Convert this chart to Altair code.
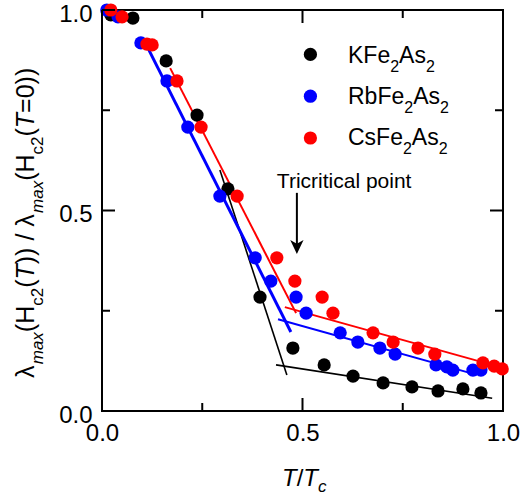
import altair as alt
import pandas as pd

# ---------------- data ----------------
compounds = ["KFe2As2", "RbFe2As2", "CsFe2As2"]
colors = ["#000000", "#0000ff", "#ff0000"]
legend_parts = [["K", "Fe", "As"], ["Rb", "Fe", "As"], ["Cs", "Fe", "As"]]

k_x = [0.022, 0.077, 0.160, 0.237, 0.314, 0.394, 0.476, 0.554, 0.626, 0.701, 0.773, 0.838, 0.900, 0.945]
k_y = [0.988, 0.980, 0.873, 0.738, 0.554, 0.284, 0.157, 0.115, 0.087, 0.070, 0.060, 0.050, 0.055, 0.045]
rb_x = [0.012, 0.040, 0.097, 0.162, 0.214, 0.294, 0.382, 0.421, 0.484, 0.509, 0.594, 0.638, 0.693, 0.731,
        0.833, 0.860, 0.875, 0.925, 0.945]
rb_y = [1.000, 0.983, 0.918, 0.823, 0.708, 0.536, 0.382, 0.324, 0.284, 0.244, 0.195, 0.172, 0.157, 0.142,
        0.115, 0.110, 0.102, 0.102, 0.102]
cs_x = [0.022, 0.050, 0.112, 0.125, 0.187, 0.247, 0.337, 0.436, 0.481, 0.549, 0.576, 0.676, 0.726, 0.788,
        0.830, 0.950, 0.978, 0.998]
cs_y = [1.000, 0.983, 0.915, 0.913, 0.823, 0.708, 0.536, 0.382, 0.324, 0.284, 0.244, 0.195, 0.172, 0.157,
        0.142, 0.120, 0.112, 0.105]

# guide lines (two straight segments per compound)
fit_compound = [0, 0, 1, 1, 2, 2]
fit_x1 = [0.294, 0.434, 0.107, 0.439, 0.170, 0.456]
fit_y1 = [0.601, 0.115, 0.920, 0.229, 0.855, 0.259]
fit_x2 = [0.461, 0.973, 0.471, 0.935, 0.484, 0.955]
fit_y2 = [0.090, 0.032, 0.197, 0.090, 0.244, 0.120]

arrow_x = [0.486]
arrow_top = [0.544]
arrow_head = [0.409]
note_x = [0.436]
note_y = [0.556]
note_text = ["Tricritical point"]

major_ticks = [0.0, 0.5, 1.0]
minor_ticks = [0.25, 0.75]

# ---------------- styles ----------------
fit_width = [1.6, 1.6, 3.0, 2.0, 2.0, 2.0]
W, H = 401, 401
FONT = "Liberation Sans"

pts = pd.concat([
    pd.DataFrame({"x": k_x, "y": k_y, "compound": compounds[0]}),
    pd.DataFrame({"x": rb_x, "y": rb_y, "compound": compounds[1]}),
    pd.DataFrame({"x": cs_x, "y": cs_y, "compound": compounds[2]}),
], ignore_index=True)

xs = alt.Scale(domain=[0, 1], nice=False, zero=False)
ys = alt.Scale(domain=[0, 1], nice=False, zero=False)
xax = alt.Axis(values=major_ticks, format=".1f", title=None, grid=False, domain=False, ticks=False,
               tickSize=0, labelFontSize=24, labelFont=FONT, labelColor="black", labelPadding=10,
               labelFlush=False, labelOverlap=False)
yax = alt.Axis(values=major_ticks, format=".1f", title=None, grid=False, domain=False, ticks=False,
               tickSize=0, labelFontSize=24, labelFont=FONT, labelColor="black", labelPadding=10,
               labelFlush=False, labelOverlap=False, labelOffset=4)

layers = []

# fit lines
for i in range(len(fit_x1)):
    d = pd.DataFrame({"x": [fit_x1[i]], "y": [fit_y1[i]], "x2": [fit_x2[i]], "y2": [fit_y2[i]]})
    layers.append(alt.Chart(d).mark_rule(color=colors[fit_compound[i]], strokeWidth=fit_width[i]).encode(
        x=alt.X("x:Q", scale=xs, axis=xax), y=alt.Y("y:Q", scale=ys, axis=yax), x2="x2:Q", y2="y2:Q"))

# points (legend keeps only its symbols; the labels with subscripts are drawn below)
layers.append(alt.Chart(pts).mark_circle(size=175, opacity=1).encode(
    x=alt.X("x:Q", scale=xs, axis=xax),
    y=alt.Y("y:Q", scale=ys, axis=yax),
    color=alt.Color("compound:N", scale=alt.Scale(domain=compounds, range=colors), sort=compounds,
                    legend=alt.Legend(title=None, orient="none", legendX=201.4, legendY=37.4,
                                      symbolType="circle", symbolSize=175, symbolStrokeWidth=0,
                                      symbolOpacity=1, labelExpr="''", labelFontSize=1,
                                      labelOffset=0, rowPadding=27.8, padding=0)),
))

# arrow + annotation
ad = pd.DataFrame({"x": arrow_x, "y": arrow_top, "y2": arrow_head})
layers.append(alt.Chart(ad).mark_rule(color="black", strokeWidth=2).encode(
    x=alt.X("x:Q", scale=xs, axis=xax), y=alt.Y("y:Q", scale=ys, axis=yax), y2="y2:Q"))
layers.append(alt.Chart(ad).mark_point(shape="M0,1 L-0.95,-1 L0,-0.45 L0.95,-1 Z", size=196,
                                       filled=True, color="black", opacity=1, strokeWidth=0).encode(
    x=alt.X("x:Q", scale=xs, axis=xax), y=alt.Y("y2:Q", scale=ys, axis=yax)))
nd = pd.DataFrame({"x": note_x, "y": note_y, "t": note_text})
layers.append(alt.Chart(nd).mark_text(align="left", baseline="alphabetic", fontSize=21, font=FONT,
                                      color="black").encode(
    x=alt.X("x:Q", scale=xs, axis=xax), y=alt.Y("y:Q", scale=ys, axis=yax), text="t:N"))

# inward ticks on all four sides
for vals, ln in ((major_ticks, 13), (minor_ticks, 8)):
    td = pd.DataFrame({"v": vals})
    rule = alt.Chart(td).mark_rule(color="black", strokeWidth=2)
    layers.append(rule.encode(x=alt.X("v:Q", scale=xs, axis=xax), y=alt.value(H), y2=alt.value(H - ln)))
    layers.append(rule.encode(x=alt.X("v:Q", scale=xs, axis=xax), y=alt.value(0), y2=alt.value(ln)))
    layers.append(rule.encode(y=alt.Y("v:Q", scale=ys, axis=yax), x=alt.value(0), x2=alt.value(ln)))
    layers.append(rule.encode(y=alt.Y("v:Q", scale=ys, axis=yax), x=alt.value(W), x2=alt.value(W - ln)))

# ---------------- texts built from styled pieces (subscripts, italics) ----------------
CW = {'λ': 0.55, 'm': 0.833, 'a': 0.556, 'x': 0.5, '(': 0.333, ')': 0.333, 'H': 0.722, 'c': 0.5,
      '2': 0.556, 'T': 0.611, ' ': 0.278, '/': 0.278, '=': 0.584, '0': 0.556, 'K': 0.667,
      'F': 0.611, 'e': 0.556, 'A': 0.667, 's': 0.5, 'R': 0.722, 'b': 0.556, 'C': 0.722}


def width(s, size):
    return sum(CW[ch] for ch in s) * size


def piece(txt, size, italic, px, py, angle=0):
    kw = dict(align="left", baseline="alphabetic", fontSize=size, font=FONT, color="black")
    if italic:
        kw["fontStyle"] = "italic"
    if angle:
        kw["angle"] = angle
    return alt.Chart(pd.DataFrame({"t": [txt]})).mark_text(**kw).encode(
        text="t:N", x=alt.value(px), y=alt.value(py))


M, S = 25, 17
ytitle = [("λ", M, False, 0), ("max", S, True, 1), ("(H", M, False, 0), ("c2", S, False, 1),
          ("(", M, False, 0), ("T", M, True, 0), (")) / ", M, False, 0),
          ("λ", M, False, 0), ("max", S, True, 1), ("(H", M, False, 0), ("c2", S, False, 1),
          ("(", M, False, 0), ("T", M, True, 0), ("=0))", M, False, 0)]
xtitle = [("T", 24, True, 0), ("/", 24, False, 0), ("T", 24, True, 0), ("c", 17, True, 1)]

pos = 368.0
for txt, size, it, sub in ytitle:
    layers.append(piece(txt, size, it, -68 + (9 if sub else 0), pos, angle=270))
    pos -= width(txt, size)

pos = 180.0
for txt, size, it, sub in xtitle:
    layers.append(piece(txt, size, it, pos, 476 + (6 if sub else 0)))
    pos += width(txt, size)

# legend labels: e.g. K Fe (2) As (2)
LM, LS = 23, 16
for row, (a, fe, as_) in enumerate(legend_parts):
    base = 53 + 41 * row
    pos = 246.0
    for txt, size, sub in ((a + fe, LM, 0), ("2", LS, 1), (as_, LM, 0), ("2", LS, 1)):
        layers.append(piece(txt, size, False, pos, base + (9 if sub else 0)))
        pos += width(txt, size)

chart = alt.layer(*layers).properties(
    width=W, height=H,
    autosize=alt.AutoSizeParams(type="none"),
    padding={"left": 102, "top": 10, "right": 20, "bottom": 86},
    background="white",
).configure_view(stroke="black", strokeWidth=2)

chart.save("out.html", embed_options={"renderer": "svg", "actions": False})
